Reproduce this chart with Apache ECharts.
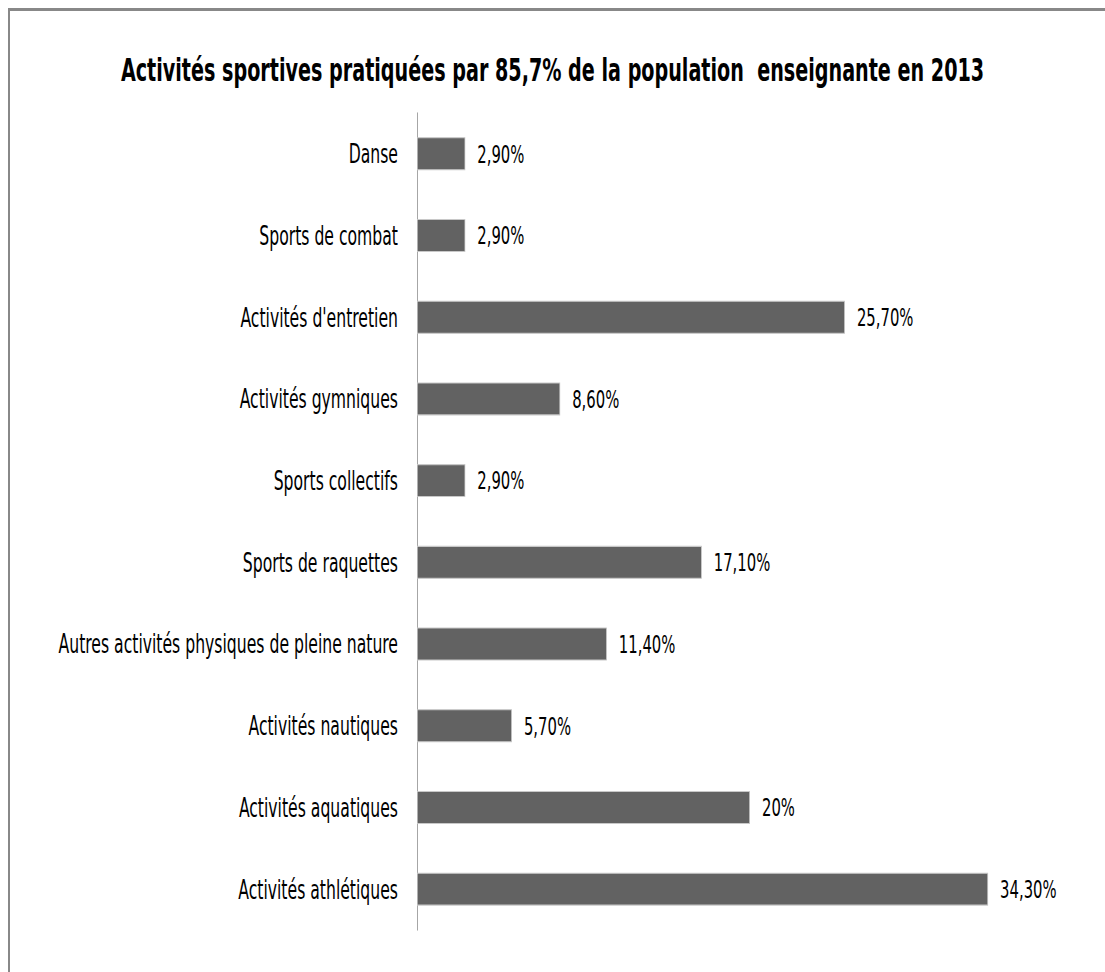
<!DOCTYPE html>
<html>
<head>
<meta charset="utf-8">
<script src="https://cdn.jsdelivr.net/npm/echarts@6/dist/echarts.min.js"></script>
<style>
html,body{margin:0;padding:0;background:#fff;overflow:hidden;}
#wrap{width:1105px;height:972px;overflow:hidden;}
#chart{width:1105px;height:648px;transform:scaleY(1.5);transform-origin:0 0;}
</style>
</head>
<body>
<div id="wrap"><div id="chart"></div></div>
<script>
const titleText = "Activités sportives pratiquées par 85,7% de la population  enseignante en 2013";
const categories = [
  "Danse",
  "Sports de combat",
  "Activités d'entretien",
  "Activités gymniques",
  "Sports collectifs",
  "Sports de raquettes",
  "Autres activités physiques de pleine nature",
  "Activités nautiques",
  "Activités aquatiques",
  "Activités athlétiques"
];
const values = [2.9, 2.9, 25.7, 8.6, 2.9, 17.1, 11.4, 5.7, 20, 34.3];
const valueLabels = ["2,90%", "2,90%", "25,70%", "8,60%", "2,90%", "17,10%", "11,40%", "5,70%", "20%", "34,30%"];

// The reference text is drawn with tall, narrow glyphs: the chart is laid out
// at 1/1.5 of the height and stretched vertically by CSS.
const FONT = "'DejaVu Sans Condensed', 'DejaVu Sans', sans-serif";
const chart = echarts.init(document.getElementById('chart'), null, {renderer: 'svg', width: 1105, height: 648});
chart.setOption({
  backgroundColor: '#ffffff',
  animation: false,
  title: {
    text: titleText,
    left: 'center',
    top: 31,
    textStyle: {fontFamily: FONT, fontSize: 21.3, fontWeight: 'bold', color: '#000'}
  },
  graphic: [{
    type: 'rect',
    shape: {x: 9, y: 6.3, width: 1300, height: 1300},
    style: {fill: 'none', stroke: '#888', lineWidth: 2},
    silent: true
  }],
  grid: {left: 417, right: 22, top: 75.3, bottom: 28, containLabel: false},
  xAxis: {
    type: 'value', min: 0, max: 40, show: false
  },
  yAxis: {
    type: 'category',
    inverse: true,
    data: categories,
    axisLine: {show: true, lineStyle: {color: '#a6a6a6', width: 1}},
    axisTick: {show: false},
    axisLabel: {fontFamily: FONT, fontSize: 17.4, color: '#000', margin: 19}
  },
  series: [{
    type: 'bar',
    data: values,
    barWidth: 22,
    itemStyle: {color: '#626262', borderColor: '#c8c8c8', borderWidth: 0.7},
    label: {
      show: true,
      position: 'right',
      distance: 12,
      fontFamily: FONT,
      fontSize: 16.5,
      color: '#000',
      formatter: p => valueLabels[p.dataIndex]
    }
  }]
});
</script>
</body>
</html>
